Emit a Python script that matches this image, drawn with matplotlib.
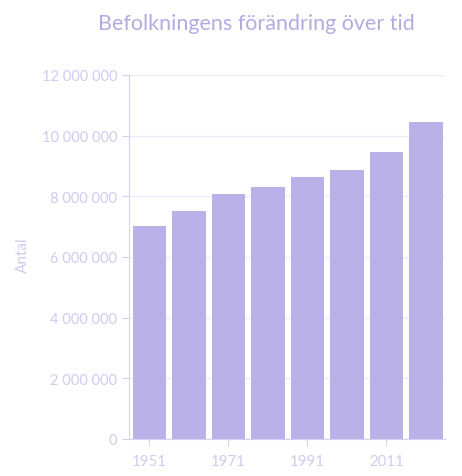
import matplotlib.pyplot as plt
from matplotlib.ticker import FuncFormatter

# data
years = [1951, 1961, 1971, 1981, 1991, 2001, 2011, 2021]
befolkning = [7020000, 7520000, 8080000, 8310000, 8630000, 8880000, 9450000, 10460000]
tick_years = [1951, 1971, 1991, 2011]

bar_color = '#b9b1e8'
text_color = '#d0cbf0'
title_color = '#b3abe2'
grid_color = '#eeebfb'

plt.rcParams['font.family'] = ['Lato', 'DejaVu Sans']

fig = plt.figure(figsize=(4.62, 4.77), dpi=100)
ax = fig.add_axes([0.279, 0.0776, 0.684, 0.7631])

ax.bar(years, befolkning, width=8.4, color=bar_color, zorder=2)

ax.set_ylim(0, 12000000)
ax.set_xlim(1945.8, 2025.8)
ax.set_yticks(range(0, 12000001, 2000000))
ax.set_xticks(tick_years)
ax.yaxis.set_major_formatter(FuncFormatter(lambda v, p: f"{int(v):,}".replace(',', ' ')))

ax.grid(axis='y', color=grid_color, linewidth=1, zorder=0)
for s in ['top', 'right']:
    ax.spines[s].set_visible(False)
ax.spines['left'].set_color('#d6d1f3')
ax.spines['bottom'].set_color('#d6d1f3')
ax.tick_params(colors='#d6d1f3', labelcolor=text_color, labelsize=10.5, length=5)
ax.tick_params(axis='x', pad=6, labelsize=10.8)

ax.set_ylabel('Antal', color=text_color, fontsize=11)
ax.yaxis.set_label_coords(-0.314, 0.508)
fig.suptitle('Befolkningens förändring över tid', x=0.556, y=0.97,
             color=title_color, fontsize=15.5)

fig.savefig('out.png', dpi=100, facecolor='white')
